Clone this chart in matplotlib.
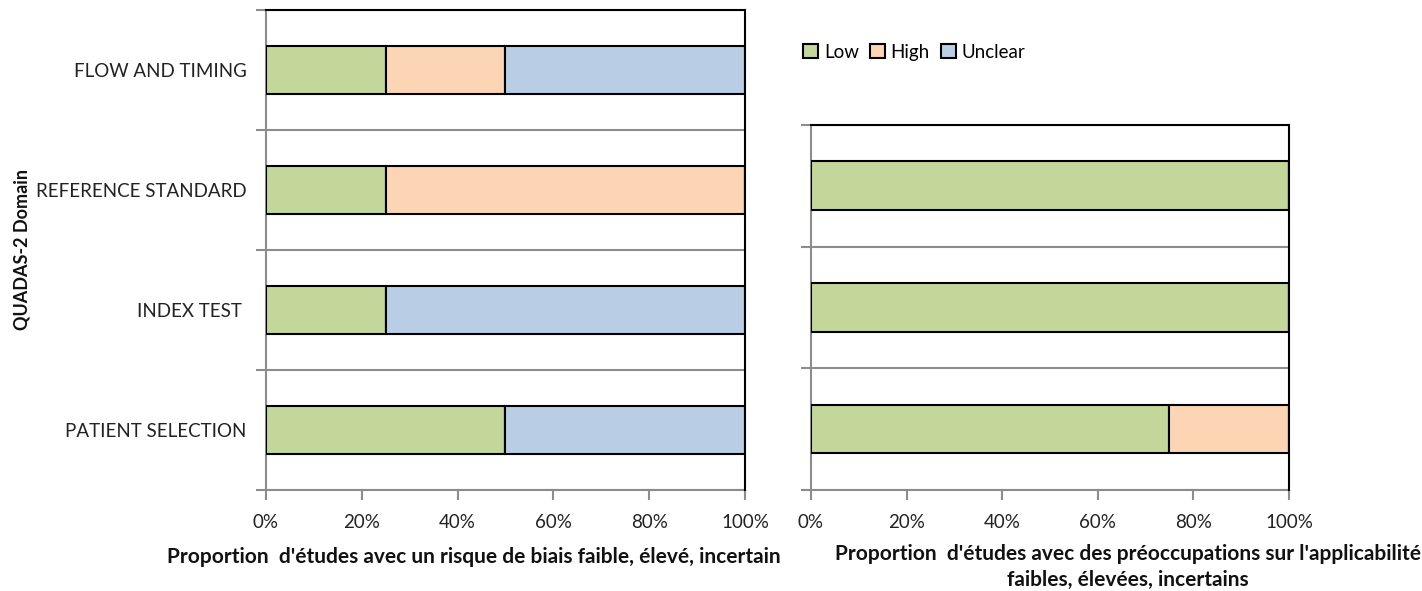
import matplotlib
matplotlib.use("Agg")
import matplotlib.pyplot as plt
import numpy as np
from matplotlib.ticker import FixedLocator, PercentFormatter
from matplotlib.patches import Patch

plt.rcParams['font.family'] = ['Lato', 'DejaVu Sans']

# QUADAS-2 domains, bottom to top
domains = ["PATIENT SELECTION", "INDEX TEST ", "REFERENCE STANDARD", "FLOW AND TIMING"]
series = ["Low", "High", "Unclear"]
colors = ["#C4D79B", "#FCD5B5", "#B9CDE5"]

# Risk of bias (%)
bias_low = [50, 25, 25, 25]
bias_high = [0, 0, 75, 25]
bias_unclear = [50, 75, 0, 50]

# Applicability concerns (%), first three domains
appl_low = [75, 100, 100]
appl_high = [25, 0, 0]
appl_unclear = [0, 0, 0]

xticks = [0, 20, 40, 60, 80, 100]

GREY = "#8C8C8C"

fig = plt.figure(figsize=(14.22, 5.91), dpi=100)
ax1 = fig.add_axes([0.187, 0.1709, 0.3369, 0.812])
ax2 = fig.add_axes([0.5703, 0.1709, 0.3361, 0.6176])


def draw(ax, values, labels):
    n = len(values[0])
    y = np.arange(n)
    left = np.zeros(n)
    for vals, c, name in zip(values, colors, series):
        vals = np.asarray(vals, dtype=float)
        ax.barh(y, vals, left=left, height=0.4, color=c, edgecolor="black",
                linewidth=1.5, label=name, zorder=3)
        left += vals
    ax.set_xlim(0, 100)
    ax.set_ylim(-0.5, n - 0.5)
    ax.xaxis.set_major_locator(FixedLocator(xticks))
    ax.xaxis.set_major_formatter(PercentFormatter(decimals=0))
    ax.yaxis.set_major_locator(FixedLocator(np.arange(n + 1) - 0.5))
    ax.yaxis.set_major_formatter(plt.NullFormatter())
    ax.yaxis.grid(True, which="major", color=GREY, linewidth=1.5, zorder=1)
    ax.tick_params(axis="both", which="major", direction="out", length=7,
                   width=1.5, color=GREY, labelsize=13.5, labelcolor="#222222")
    ax.tick_params(axis="x", pad=10)
    if labels is not None:
        ax.set_yticks(y, minor=True)
        ax.set_yticklabels(labels, minor=True)
        ax.tick_params(axis="y", which="minor", length=0, pad=14,
                       labelsize=13.5, labelcolor="#222222")
    for side in ("left", "bottom"):
        ax.spines[side].set_color(GREY)
        ax.spines[side].set_linewidth(1.5)
    for side in ("top", "right"):
        ax.spines[side].set_color("black")
        ax.spines[side].set_linewidth(1.5)
        ax.spines[side].set_zorder(4)


draw(ax1, [bias_low, bias_high, bias_unclear], domains)
draw(ax2, [appl_low, appl_high, appl_unclear], None)

W, H = 1422, 591
fig.text(22 / W, 1 - 250 / H, "QUADAS-2 Domain", rotation=90, fontsize=13,
         fontweight="bold", ha="center", va="center", color="#111111")
fig.text(474 / W, 1 - 557 / H,
         "Proportion  d'études avec un risque de biais faible, élevé, incertain",
         fontsize=15, fontweight="bold", ha="center", va="center", color="#111111")
fig.text(1128 / W, 1 - 567 / H,
         "Proportion  d'études avec des préoccupations sur l'applicabilité\nfaibles, élevées, incertains",
         fontsize=15, fontweight="bold", ha="center", va="center",
         linespacing=1.35, color="#111111")

handles = [Patch(facecolor=c, edgecolor="black", linewidth=1.5) for c in colors]
fig.legend(handles, series, loc="center left", bbox_to_anchor=(0.553, 0.912),
           ncol=3, frameon=False, fontsize=13.5, handlelength=0.8,
           handleheight=0.8, handletextpad=0.3, columnspacing=0.6)

fig.savefig("out.png", dpi=100)
